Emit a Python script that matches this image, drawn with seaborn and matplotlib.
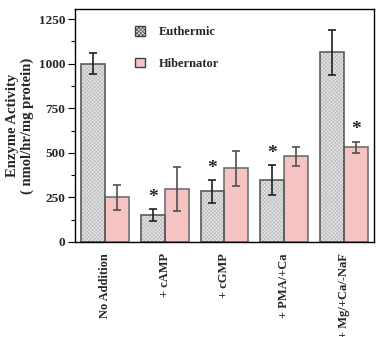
import matplotlib
matplotlib.use("Agg")
import matplotlib.pyplot as plt
from matplotlib.ticker import MultipleLocator
from matplotlib.patches import Patch, Rectangle
import seaborn as sns
import pandas as pd

treatments = ["No Addition", "+ cAMP", "+ cGMP", "+ PMA/+Ca", "+ Mg/+Ca/-NaF"]
euthermic = [1000, 150, 284, 346, 1063]
euthermic_err = [58, 33, 63, 84, 128]
hibernator = [250, 296, 413, 480, 530]
hibernator_err = [72, 122, 98, 52, 33]
groups = ["Euthermic", "Hibernator"]
# significance marks: (treatment index, group index)
significant = [(1, 0), (2, 0), (3, 0), (4, 1)]

df = pd.DataFrame({
    "treatment": treatments * 2,
    "group": [groups[0]] * 5 + [groups[1]] * 5,
    "activity": euthermic + hibernator,
})

sns.set_theme(style="white")
plt.rcParams["font.family"] = ["Liberation Serif", "DejaVu Serif"]
plt.rcParams["font.weight"] = "bold"
plt.rcParams["hatch.linewidth"] = 0.45

fig = plt.figure(figsize=(3.84, 3.37), dpi=100)
ax = fig.add_axes([0.195, 0.282, 0.779, 0.691])

palette = {"Euthermic": "#e6e6e6", "Hibernator": "#f6c3c3"}
sns.barplot(data=df, x="treatment", y="activity", hue="group",
            order=treatments, hue_order=groups, palette=palette,
            errorbar=None, width=0.8, saturation=1, ax=ax, legend=False)

bar_sets = list(ax.containers)
for cont, grp in zip(bar_sets, groups):
    for bar in cont:
        if grp == "Euthermic":
            # fine grey texture, outline drawn separately
            bar.set_hatch("xxxxxxxxx")
            bar.set_edgecolor("#b8b8b8")
            bar.set_linewidth(0)
            ax.add_patch(Rectangle(bar.get_xy(), bar.get_width(),
                                   bar.get_height(), fill=False,
                                   edgecolor="#5a5a5a", linewidth=1.2,
                                   zorder=bar.get_zorder() + 0.1))
        else:
            bar.set_edgecolor("#707070")
            bar.set_linewidth(1.2)

errs = [euthermic_err, hibernator_err]
vals = [euthermic, hibernator]
for gi, cont in enumerate(bar_sets):
    xs = [b.get_x() + b.get_width() / 2 for b in cont]
    ax.errorbar(xs, vals[gi], yerr=errs[gi], fmt="none",
                ecolor="#202020" if gi == 0 else "#505050",
                elinewidth=1.2, capsize=3, capthick=1.2, zorder=5)
    for ti, g in significant:
        if g == gi:
            ax.text(xs[ti], vals[gi][ti] + errs[gi][ti] + 20, "*",
                    ha="center", va="bottom", fontsize=14, fontweight="bold")

ax.set_xlim(-0.5, 4.5)
ax.set_ylim(0, 1306)
ax.yaxis.set_major_locator(MultipleLocator(250))
ax.yaxis.set_minor_locator(MultipleLocator(125))
ax.tick_params(axis="y", which="major", direction="out", length=5, width=0.8,
               left=True, labelsize=9.5, pad=2, color="black")
ax.tick_params(axis="y", which="minor", direction="out", length=3, width=0.8,
               left=True, color="black")
ax.tick_params(axis="x", bottom=False, labelsize=9, pad=2)
for lab in ax.get_xticklabels():
    lab.set_rotation(90)
    lab.set_fontweight("bold")
for lab in ax.get_yticklabels():
    lab.set_fontweight("bold")
for sp in ax.spines.values():
    sp.set_color("black")
    sp.set_linewidth(1.0)
    sp.set_visible(True)

ax.set_xlabel("")
ax.set_ylabel("Enzyme Activity\n( nmol/hr/mg protein)", fontsize=10.5,
              fontweight="bold", labelpad=3, linespacing=1.2)

handles = [Patch(facecolor=palette["Euthermic"], edgecolor="#404040",
                 hatch="xxxxxxxxx", linewidth=1.0),
           Patch(facecolor=palette["Hibernator"], edgecolor="#404040",
                 linewidth=1.0)]
ax.legend(handles, groups, loc="upper left", bbox_to_anchor=(0.165, 0.975),
          frameon=False, handlelength=0.8, handleheight=0.8,
          labelspacing=1.55, handletextpad=1.1,
          prop={"family": "Liberation Serif", "weight": "bold", "size": 9})

fig.savefig("out.png", dpi=100)
